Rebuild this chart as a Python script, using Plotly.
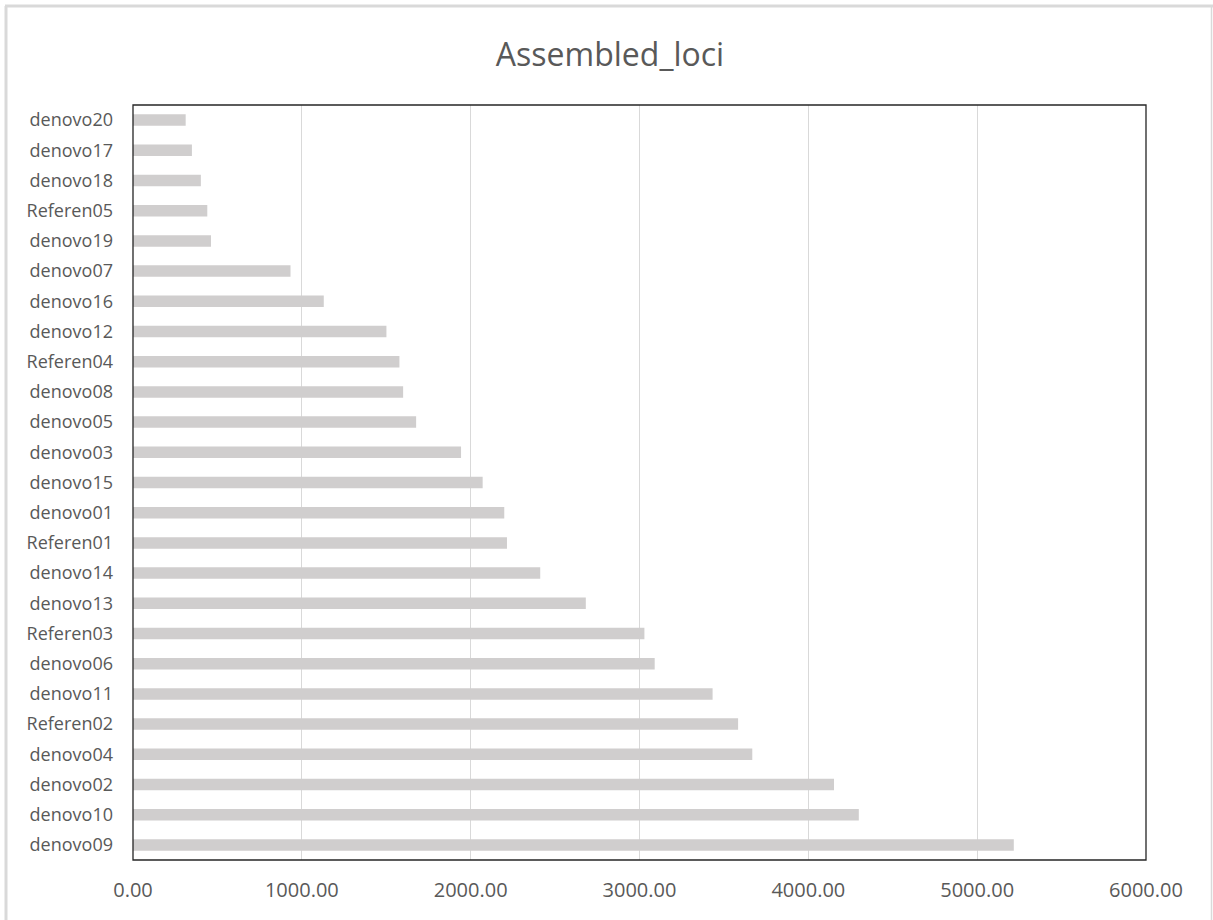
import plotly.graph_objects as go

# Assembled loci per sample, listed bottom-to-top as drawn on the y axis
samples = ["denovo09", "denovo10", "denovo02", "denovo04", "Referen02", "denovo11",
           "denovo06", "Referen03", "denovo13", "denovo14", "Referen01", "denovo01",
           "denovo15", "denovo03", "denovo05", "denovo08", "Referen04", "denovo12",
           "denovo16", "denovo07", "denovo19", "Referen05", "denovo18", "denovo17",
           "denovo20"]
loci = [5217, 4299, 4152, 3668, 3584, 3433,
        3090, 3029, 2682, 2412, 2215, 2199,
        2071, 1943, 1677, 1600, 1578, 1501,
        1130, 933, 462, 440, 402, 349,
        312]
x_ticks = [0, 1000, 2000, 3000, 4000, 5000, 6000]
x_tick_text = ["0.00", "1000.00", "2000.00", "3000.00", "4000.00", "5000.00", "6000.00"]

W, H = 1213, 920
L, R, T, B = 133, 67, 105, 60
pw, ph = W - L - R, H - T - B


def px_x(p):
    return (p - L) / pw


def px_y(p):
    return (H - B - p) / ph


fig = go.Figure(go.Bar(
    x=loci, y=samples, orientation="h",
    marker=dict(color="#d0cece", line=dict(width=0)),
    hoverinfo="x+y",
))

fig.update_layout(
    width=W, height=H,
    margin=dict(l=L, r=R, t=T, b=B),
    paper_bgcolor="white", plot_bgcolor="white",
    bargap=0.62,
    showlegend=False,
    font=dict(family="Open Sans, Noto Sans, sans-serif", color="#595959", size=18),
    title=dict(text="Assembled_loci", x=610 / W, xanchor="center", xref="container",
               y=1 - 55 / H, yanchor="middle",
               font=dict(size=32, color="#595959")),
    xaxis=dict(range=[0, 6000], tickvals=x_ticks, ticktext=x_tick_text,
               showgrid=True, gridcolor="#d9d9d9", gridwidth=1,
               zeroline=False, ticks="", ticklen=0,
               tickfont=dict(size=20, color="#595959"),
               showline=False),
    yaxis=dict(categoryorder="array", categoryarray=samples,
               showgrid=False, zeroline=False, ticks="",
               tickfont=dict(size=18, color="#595959"),
               showline=False, automargin=False),
    shapes=[
        # frame around the plot area
        dict(type="rect", xref="paper", yref="paper", x0=0, x1=1, y0=0, y1=1,
             line=dict(color="#262626", width=1.3), fillcolor="rgba(0,0,0,0)",
             layer="above"),
        # light outer chart border (left, top, right)
        dict(type="line", xref="paper", yref="paper",
             x0=px_x(6), x1=px_x(6), y0=px_y(6), y1=px_y(925),
             line=dict(color="#d9d9d9", width=3)),
        dict(type="line", xref="paper", yref="paper",
             x0=px_x(5), x1=px_x(1213), y0=px_y(6), y1=px_y(6),
             line=dict(color="#d9d9d9", width=3)),
        dict(type="line", xref="paper", yref="paper",
             x0=px_x(1211.5), x1=px_x(1211.5), y0=px_y(6), y1=px_y(925),
             line=dict(color="#d9d9d9", width=1.5)),
    ],
)
fig.update_xaxes(ticklabelstandoff=16)
fig.update_yaxes(ticklabelstandoff=19)

fig.write_html("out.html")
